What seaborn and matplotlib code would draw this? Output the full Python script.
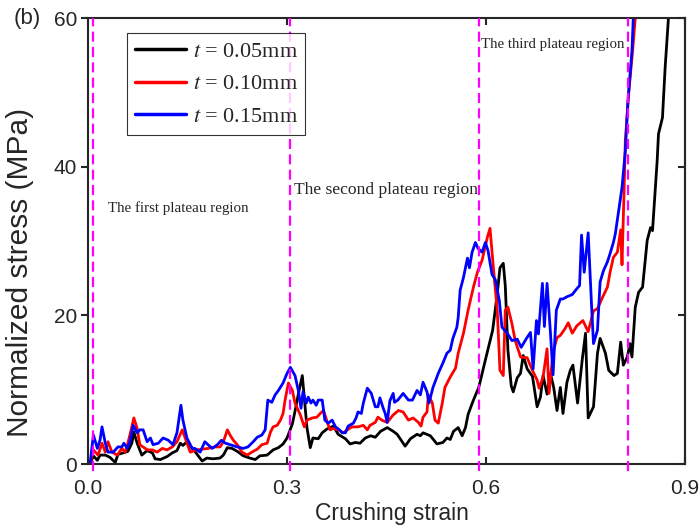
import numpy as np
import pandas as pd
import matplotlib
matplotlib.use('Agg')
import matplotlib.pyplot as plt
import seaborn as sns

# t = 0.05mm
strain_005 = [0.003, 0.008, 0.014, 0.018, 0.026, 0.033, 0.041, 0.045, 0.053, 0.06, 0.066, 0.069, 0.074,
              0.081, 0.089, 0.097, 0.101, 0.109, 0.119, 0.127, 0.134, 0.139, 0.143, 0.149, 0.157, 0.161,
              0.172, 0.179, 0.188, 0.199, 0.204, 0.21, 0.217, 0.225, 0.234, 0.244, 0.252, 0.259, 0.27,
              0.279, 0.287, 0.294, 0.3, 0.308, 0.312, 0.317, 0.323, 0.326, 0.33, 0.335, 0.339, 0.347,
              0.353, 0.36, 0.37, 0.377, 0.388, 0.395, 0.403, 0.41, 0.418, 0.426, 0.433, 0.441, 0.451,
              0.46, 0.466, 0.478, 0.486, 0.496, 0.501, 0.505, 0.516, 0.526, 0.535, 0.541, 0.546, 0.551,
              0.558, 0.564, 0.569, 0.573, 0.581, 0.589, 0.599, 0.61, 0.617, 0.621, 0.626, 0.629, 0.633,
              0.638, 0.641, 0.647, 0.652, 0.656, 0.662, 0.67, 0.677, 0.682, 0.686, 0.692, 0.697, 0.702,
              0.707, 0.712, 0.716, 0.722, 0.727, 0.731, 0.738, 0.745, 0.75, 0.754, 0.762, 0.768, 0.772,
              0.78, 0.785, 0.793, 0.798, 0.803, 0.807, 0.813, 0.817, 0.82, 0.825, 0.83, 0.836, 0.843,
              0.848, 0.851, 0.858, 0.86, 0.866, 0.87, 0.875, 0.878]
stress_005 = [0.0, 1.1, 0.5, 1.2, 1.2, 0.9, 0.2, 1.3, 1.5, 1.7, 2.8, 4.3, 2.8,
              1.2, 1.8, 1.5, 0.7, 0.6, 1.0, 1.5, 1.8, 2.8, 2.5, 3.0, 2.1, 1.7,
              0.4, 0.8, 0.7, 0.8, 1.2, 2.2, 2.1, 1.7, 1.1, 0.8, 0.6, 1.1, 1.2,
              1.9, 2.2, 2.7, 3.5, 5.4, 7.1, 9.4, 11.9, 8.9, 4.9, 2.2, 3.5, 3.4,
              4.2, 4.7, 5.1, 4.0, 3.4, 2.7, 2.9, 2.8, 3.5, 3.8, 3.6, 4.4, 4.9,
              4.4, 4.0, 2.4, 3.4, 4.0, 3.8, 4.2, 3.8, 2.7, 2.9, 3.5, 3.3, 4.4,
              4.9, 3.8, 4.9, 6.7, 8.6, 10.3, 14.0, 18.0, 23.0, 26.4, 27.0, 24.0, 15.3,
              10.5, 9.7, 11.6, 12.2, 14.6, 12.8, 11.8, 7.7, 9.0, 11.9, 9.4, 12.2, 10.3,
              7.2, 10.3, 6.8, 11.0, 12.6, 13.3, 8.2, 14.0, 17.6, 6.2, 7.7, 14.9, 16.9,
              14.9, 12.6, 11.9, 12.2, 16.4, 13.3, 14.4, 16.2, 14.4, 21.1, 23.1, 23.8, 30.1,
              31.8, 31.4, 40.8, 44.4, 46.6, 53.3, 60.0, 64.0]

# t = 0.10mm
strain_010 = [0.003, 0.008, 0.015, 0.021, 0.026, 0.03, 0.036, 0.044, 0.051, 0.056, 0.06, 0.066, 0.069,
              0.074, 0.078, 0.086, 0.09, 0.097, 0.104, 0.112, 0.119, 0.127, 0.134, 0.142, 0.146, 0.154,
              0.164, 0.173, 0.181, 0.192, 0.199, 0.204, 0.21, 0.214, 0.219, 0.225, 0.232, 0.24, 0.247,
              0.255, 0.262, 0.27, 0.275, 0.279, 0.285, 0.29, 0.294, 0.297, 0.302, 0.308, 0.312, 0.32,
              0.326, 0.33, 0.338, 0.345, 0.35, 0.355, 0.361, 0.365, 0.37, 0.377, 0.385, 0.391, 0.398,
              0.407, 0.415, 0.421, 0.425, 0.433, 0.437, 0.443, 0.451, 0.46, 0.468, 0.475, 0.483, 0.49,
              0.498, 0.502, 0.505, 0.511, 0.513, 0.519, 0.523, 0.528, 0.534, 0.538, 0.546, 0.554, 0.558,
              0.566, 0.573, 0.581, 0.587, 0.594, 0.602, 0.606, 0.611, 0.617, 0.621, 0.626, 0.629, 0.633,
              0.639, 0.644, 0.652, 0.662, 0.67, 0.677, 0.68, 0.686, 0.692, 0.695, 0.701, 0.707, 0.712,
              0.719, 0.724, 0.73, 0.737, 0.746, 0.754, 0.762, 0.768, 0.775, 0.783, 0.787, 0.792, 0.798,
              0.803, 0.805, 0.808, 0.81, 0.815, 0.821, 0.825, 0.83]
stress_010 = [0.0, 1.9, 1.2, 2.8, 1.6, 3.0, 1.6, 1.2, 2.1, 1.6, 2.8, 5.0, 6.2,
              4.8, 2.6, 2.1, 1.9, 1.9, 1.6, 2.1, 1.9, 2.3, 3.0, 4.6, 3.6, 1.6,
              1.9, 2.0, 2.1, 2.3, 2.3, 3.0, 4.6, 3.9, 3.2, 2.6, 1.6, 1.2, 1.6,
              2.0, 2.6, 2.8, 4.3, 5.0, 5.2, 5.9, 6.8, 8.6, 10.9, 9.9, 8.2, 6.6,
              5.0, 5.9, 6.2, 6.3, 6.8, 7.2, 5.5, 4.6, 4.8, 4.6, 4.2, 4.6, 5.0,
              5.0, 5.2, 4.6, 5.2, 5.6, 6.3, 5.9, 5.6, 6.6, 7.2, 7.0, 5.9, 6.2,
              5.6, 5.1, 6.3, 7.0, 9.3, 8.2, 5.9, 5.5, 8.2, 10.3, 11.7, 12.9, 14.9,
              17.6, 20.7, 23.8, 25.8, 27.4, 30.5, 31.7, 26.5, 20.5, 12.6, 11.9, 20.7, 21.1,
              18.9, 16.6, 14.4, 14.3, 12.6, 11.3, 10.2, 11.7, 15.5, 9.5, 15.0, 17.0, 17.3,
              18.2, 19.0, 17.6, 18.6, 19.3, 17.8, 20.6, 20.9, 22.3, 23.8, 25.8, 27.8, 28.5,
              31.5, 26.8, 36.4, 43.5, 49.8, 55.6, 60.0, 64.0]

# t = 0.15mm
strain_015 = [0.003, 0.008, 0.014, 0.018, 0.021, 0.026, 0.03, 0.038, 0.045, 0.051, 0.054, 0.059, 0.063,
              0.068, 0.074, 0.078, 0.083, 0.089, 0.094, 0.098, 0.106, 0.113, 0.121, 0.128, 0.134, 0.14,
              0.143, 0.149, 0.157, 0.161, 0.169, 0.176, 0.181, 0.187, 0.195, 0.201, 0.207, 0.214, 0.225,
              0.234, 0.241, 0.249, 0.255, 0.262, 0.267, 0.271, 0.277, 0.282, 0.287, 0.294, 0.3, 0.305,
              0.312, 0.317, 0.321, 0.324, 0.329, 0.332, 0.336, 0.339, 0.344, 0.347, 0.353, 0.357, 0.362,
              0.368, 0.373, 0.379, 0.383, 0.388, 0.392, 0.4, 0.404, 0.407, 0.412, 0.415, 0.421, 0.427,
              0.433, 0.437, 0.44, 0.445, 0.448, 0.451, 0.455, 0.46, 0.462, 0.467, 0.475, 0.483, 0.489,
              0.496, 0.501, 0.505, 0.511, 0.514, 0.52, 0.528, 0.535, 0.541, 0.546, 0.55, 0.556, 0.558,
              0.561, 0.566, 0.572, 0.575, 0.579, 0.584, 0.588, 0.594, 0.599, 0.603, 0.609, 0.614, 0.62,
              0.624, 0.632, 0.639, 0.647, 0.653, 0.661, 0.667, 0.671, 0.676, 0.679, 0.685, 0.688, 0.692,
              0.697, 0.701, 0.706, 0.712, 0.716, 0.722, 0.73, 0.737, 0.741, 0.744, 0.748, 0.754, 0.759,
              0.762, 0.768, 0.772, 0.777, 0.783, 0.787, 0.792, 0.795, 0.799, 0.805, 0.81, 0.814, 0.82,
              0.822, 0.828]
stress_015 = [0.0, 3.9, 2.1, 3.2, 5.0, 2.8, 1.6, 1.6, 2.3, 2.3, 2.8, 2.1, 3.0,
              5.2, 4.2, 4.6, 4.6, 3.0, 3.5, 2.6, 2.8, 3.5, 3.2, 2.6, 4.2, 7.9,
              5.9, 3.5, 2.1, 2.1, 1.6, 3.0, 2.6, 2.1, 2.6, 3.2, 2.8, 2.6, 2.3,
              2.1, 2.3, 3.0, 3.6, 3.9, 4.6, 8.6, 8.3, 9.3, 9.9, 10.9, 12.2, 13.0,
              11.9, 9.9, 7.5, 9.7, 8.2, 9.0, 8.2, 8.6, 7.9, 8.6, 8.6, 5.9, 5.5,
              5.9, 5.0, 4.6, 4.2, 4.2, 5.1, 5.5, 6.2, 7.0, 6.8, 8.2, 10.2, 9.5,
              7.7, 7.7, 8.9, 7.5, 6.8, 5.6, 8.5, 9.5, 8.3, 8.6, 9.5, 8.6, 8.6,
              9.9, 9.3, 11.0, 9.7, 8.2, 10.3, 12.2, 13.6, 14.9, 15.3, 16.9, 18.4, 19.7,
              23.4, 25.1, 27.7, 26.4, 28.5, 29.8, 29.0, 28.5, 29.8, 28.7, 25.5, 24.8, 22.0,
              18.4, 17.6, 16.6, 16.8, 15.7, 16.9, 17.7, 12.8, 19.3, 17.5, 24.3, 18.5, 24.3,
              17.8, 12.0, 20.7, 22.2, 22.2, 22.5, 22.8, 23.6, 24.0, 30.8, 25.8, 31.1, 21.5,
              16.2, 18.0, 24.5, 26.0, 27.2, 28.3, 29.8, 31.0, 33.5, 37.2, 42.1, 48.9, 55.6,
              60.0, 64.0]

labels = ['0.05mm', '0.10mm', '0.15mm']
colors = ['black', 'red', 'blue']
plateau_bounds = [0.007, 0.305, 0.589, 0.814]
region_texts = ['The first plateau region', 'The second plateau region', 'The third plateau region']

sns.set_style('ticks')
plt.rcParams['font.family'] = ['Liberation Sans', 'DejaVu Sans']
plt.rcParams['mathtext.fontset'] = 'stix'
serif = ['Liberation Serif', 'DejaVu Serif']

fig = plt.figure(figsize=(6.99, 5.30), dpi=100)
ax = fig.add_axes([0.126, 0.1245, 0.854, 0.8415])

series = [(strain_005, stress_005), (strain_010, stress_010), (strain_015, stress_015)]
for (x, y), lab, c in zip(series, labels, colors):
    df = pd.DataFrame({'strain': x, 'stress': y})
    sns.lineplot(data=df, x='strain', y='stress', ax=ax, color=c, lw=2.0, sort=False,
                 estimator=None, label=r'$t$ = ' + lab)

# 平台区分界线
for b in plateau_bounds:
    ax.axvline(b, ymin=-0.015, ymax=1, color='#FF00FF', lw=1.6, dashes=(4.5, 2.4),
               zorder=5, clip_on=False)

ax.text(0.03, 34.4, region_texts[0], fontsize=10.8, family=serif, va='center')
ax.text(0.311, 36.8, region_texts[1], fontsize=12.6, family=serif, va='center')
ax.text(0.593, 56.5, region_texts[2], fontsize=10.7, family=serif, va='center')

ax.set_xlim(0, 0.9)
ax.set_ylim(0, 60)
ax.set_xticks([0.0, 0.3, 0.6, 0.9])
ax.set_xticklabels(['0.0', '0.3', '0.6', '0.9'])
ax.set_yticks([0, 20, 40, 60])
ax.set_xlabel('Crushing strain', fontsize=16.5)
ax.set_ylabel('Normalized stress (MPa)', fontsize=21.5)
ax.xaxis.set_label_coords(0.509, -0.085)
ax.yaxis.set_label_coords(-0.09, 0.43)
ax.tick_params(axis='both', labelsize=15, width=1.5, length=5)
ax.tick_params(axis='x', direction='in', top=True, pad=11)
ax.tick_params(axis='y', direction='out', pad=3)
for sp in ax.spines.values():
    sp.set_linewidth(1.5)
    sp.set_visible(True)

# 右侧刻度朝内
sec = ax.secondary_yaxis('right')
sec.set_yticks([0, 20, 40, 60])
sec.tick_params(direction='in', width=1.5, length=5, labelright=False)
sec.spines['right'].set_linewidth(1.5)

leg = ax.legend(loc='upper left', bbox_to_anchor=(0.0653, 0.966), frameon=True,
                fancybox=False, edgecolor='black', handlelength=2.3, handletextpad=0.3,
                borderpad=0.35, borderaxespad=0, labelspacing=0.55,
                prop={'family': serif, 'size': 16})
leg.get_frame().set_linewidth(0.8)
for line in leg.get_lines():
    line.set_linewidth(2.5)

fig.text(0.019, 0.966, '(b)', fontsize=16, va='center')

fig.savefig('out.png', dpi=100)
